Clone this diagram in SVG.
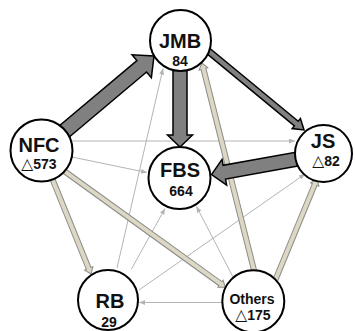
<svg xmlns="http://www.w3.org/2000/svg" width="355" height="331" viewBox="0 0 355 331">
<style>
.node circle{fill:#fff;stroke:#000;stroke-width:2}
.lbl{font-family:"Liberation Sans","Noto Sans CJK JP",sans-serif;font-weight:bold;fill:#111;text-anchor:middle}
.big{font-size:20px}
.sm{font-size:14px}
.tri{font-family:"DejaVu Sans","Noto Sans CJK JP",sans-serif;font-weight:normal;font-size:15.5px}
.thin{stroke:#b4b4b4;stroke-width:1;fill:none;marker-end:url(#ah)}
.heavy{fill:#808080;stroke:#000;stroke-width:1.5;stroke-linejoin:miter}
.beige{fill:#dcd8c3;stroke:#8c8c8c;stroke-width:1}
</style>
<defs>
<marker id="ah" markerUnits="userSpaceOnUse" markerWidth="7" markerHeight="6" refX="6" refY="2.5" orient="auto">
<path d="M0,0 L6,2.5 L0,5 z" fill="#b4b4b4"/>
</marker>
</defs>
<rect width="355" height="331" fill="#fff"/>
<g id="connectors">
<line class="thin" x1="72" y1="141" x2="295" y2="141"/>
<line class="thin" x1="72" y1="157" x2="147" y2="172.5"/>
<line class="thin" x1="117" y1="268" x2="163" y2="68.5"/>
<line class="thin" x1="131.5" y1="269" x2="165" y2="208.5"/>
<line class="thin" x1="139" y1="290" x2="305" y2="174"/>
<line class="thin" x1="222" y1="302.5" x2="139" y2="302.5"/>
<line class="thin" x1="233" y1="277" x2="196.5" y2="206.5"/>
<polygon class="beige" transform="translate(50.1,173.4) rotate(67.9)" points="0,-2.5 102.6,-2.5 102.6,-4.5 108.6,0 102.6,4.5 102.6,2.5 0,2.5"/>
<polygon class="beige" transform="translate(60,168) rotate(35.8)" points="0,-2.5 197.8,-2.5 197.8,-4.5 203.8,0 197.8,4.5 197.8,2.5 0,2.5"/>
<polygon class="beige" transform="translate(255.2,274.9) rotate(-104.1)" points="0,-2.5 212.4,-2.5 212.4,-4.5 218.4,0 212.4,4.5 212.4,2.5 0,2.5"/>
<polygon class="beige" transform="translate(275.1,280.6) rotate(-67.6)" points="0,-2.5 103.9,-2.5 103.9,-4.5 109.9,0 103.9,4.5 103.9,2.5 0,2.5"/>
<polygon class="heavy" transform="translate(41,151) rotate(-40.06)" points="0,-7.5 131.6,-7.5 131.6,-15 147.6,0 131.6,15 131.6,7.5 0,7.5"/>
<polygon class="heavy" transform="translate(180,41) rotate(90)" points="0,-7 94,-7 94,-12.5 106,0 94,12.5 94,7 0,7"/>
<polygon class="heavy" transform="translate(199.3,43.6) rotate(39.5)" points="0,-3 125.7,-3 125.7,-6.5 135.7,0 125.7,6.5 125.7,3 0,3"/>
<polygon class="heavy" transform="translate(307.8,157.2) rotate(169.8)" points="0,-7 84.8,-7 84.8,-13 97.8,0 84.8,13 84.8,7 0,7"/>
</g>
<g id="JMB" class="node"><circle cx="180.5" cy="40.5" r="30.5"/><text class="lbl big" x="180" y="48">JMB</text><text class="lbl sm" x="180" y="66">84</text></g>
<g id="NFC" class="node"><circle cx="41.5" cy="150.5" r="31"/><text class="lbl big" x="39" y="152">NFC</text><text class="lbl sm" x="39" y="168.5"><tspan class="tri">△</tspan>573</text></g>
<g id="FBS" class="node"><circle cx="179.5" cy="178" r="31"/><text class="lbl big" x="180" y="177">FBS</text><text class="lbl sm" x="181" y="196">664</text></g>
<g id="JS" class="node"><circle cx="323.5" cy="153.5" r="28.5"/><text class="lbl big" x="323" y="148">JS</text><text class="lbl sm" x="326" y="166"><tspan class="tri">△</tspan>82</text></g>
<g id="RB" class="node"><circle cx="108" cy="300" r="30"/><text class="lbl big" x="110" y="308">RB</text><text class="lbl sm" x="109" y="327">29</text></g>
<g id="Others" class="node"><circle cx="253.3" cy="301.3" r="31"/><text class="lbl sm" x="252" y="304">Others</text><text class="lbl sm" x="253" y="320"><tspan class="tri">△</tspan>175</text></g>
</svg>
